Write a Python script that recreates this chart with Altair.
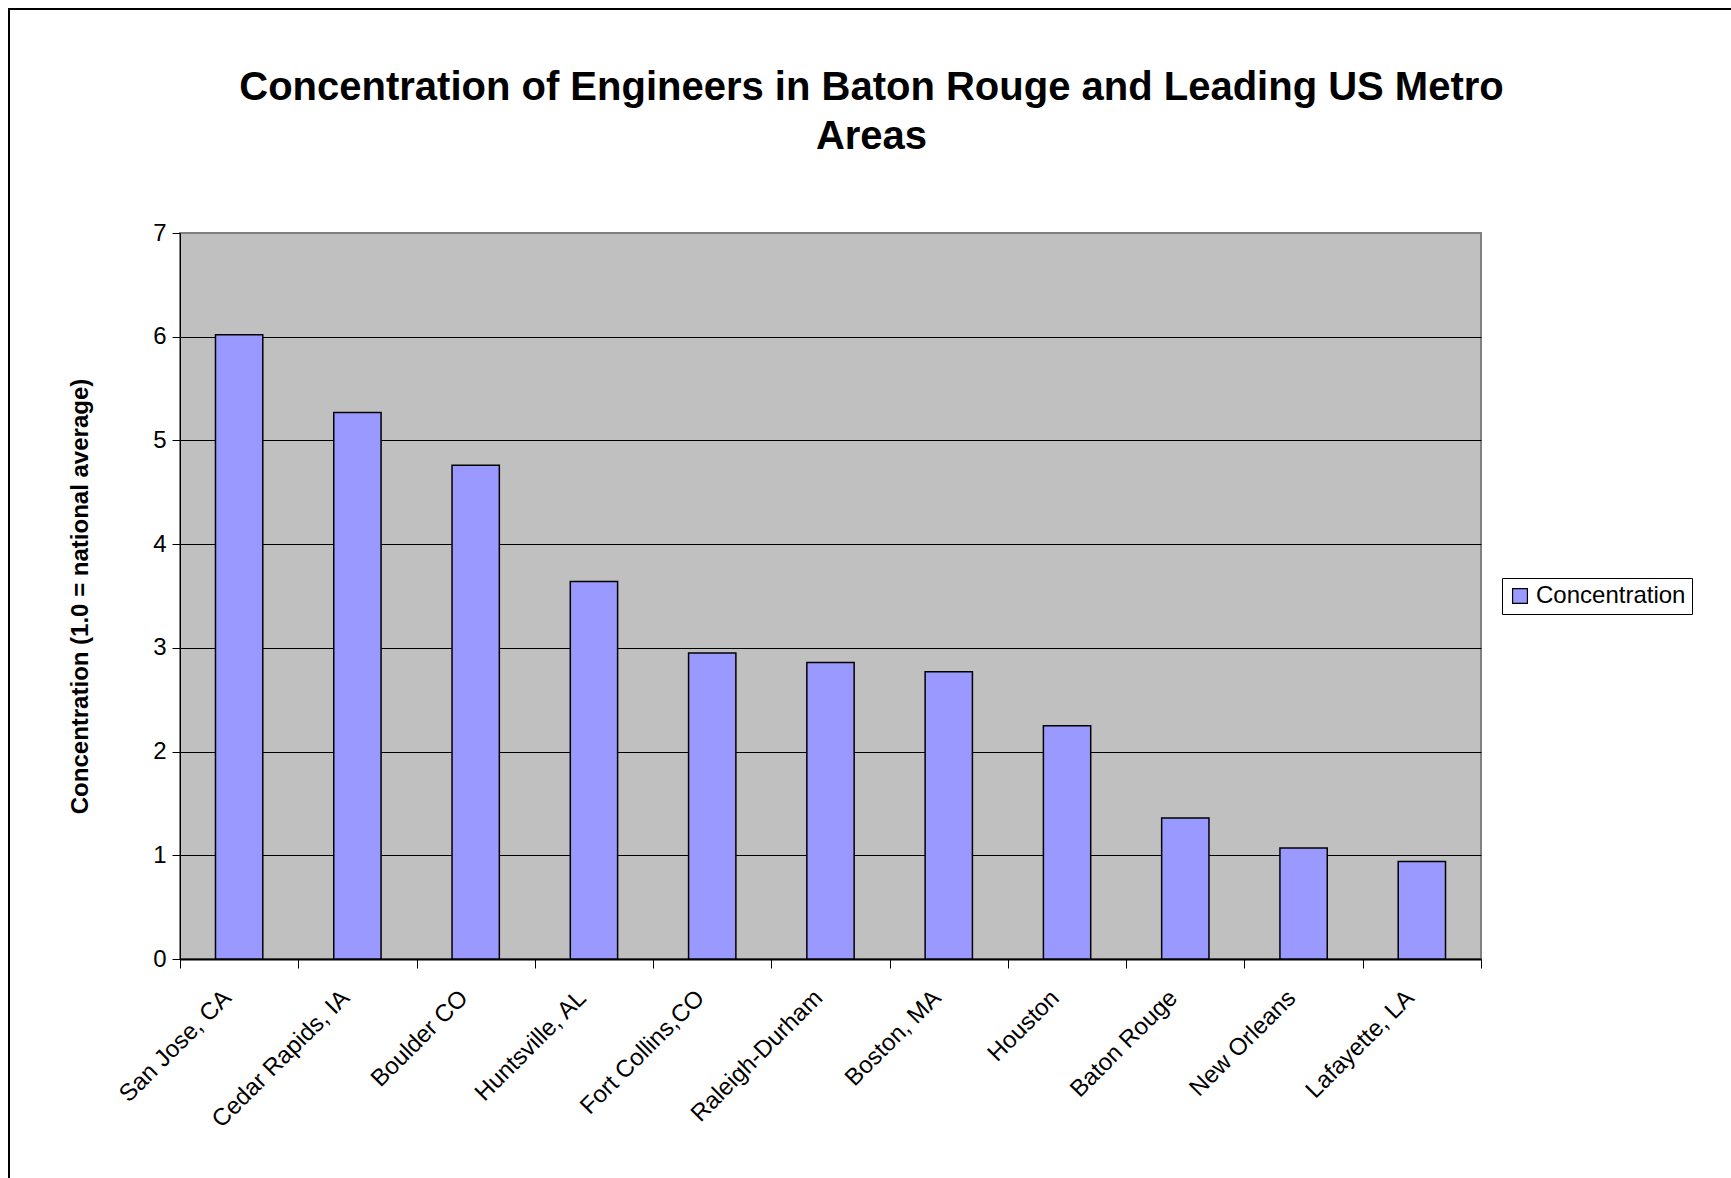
import altair as alt
import pandas as pd

cities = ["San Jose, CA", "Cedar Rapids, IA", "Boulder CO", "Huntsville, AL", "Fort Collins,CO",
          "Raleigh-Durham", "Boston, MA", "Houston", "Baton Rouge", "New Orleans", "Lafayette, LA"]
values = [6.02, 5.27, 4.76, 3.64, 2.95, 2.86, 2.77, 2.25, 1.36, 1.07, 0.94]
series = ["Concentration"] * len(cities)
y_ticks = [0, 1, 2, 3, 4, 5, 6, 7]

df = pd.DataFrame({"city": cities, "value": values, "series": series})

FONT = "Liberation Sans"
PLOT_W, PLOT_H = 1301, 726
LEFT, TOP = 180, 233

bars = alt.Chart(df).mark_bar(
    width=alt.RelativeBandSize(0.4), stroke="black", strokeWidth=1.5
).encode(
    x=alt.X("city:N", sort=cities, title=None,
            scale=alt.Scale(paddingInner=0, paddingOuter=0),
            axis=alt.Axis(labelAngle=-45, labelAlign="right", labelBaseline="middle",
                          labelFont=FONT, labelFontSize=24, labelColor="black",
                          labelPadding=26, labelOffset=-12, tickSize=9, tickColor="black",
                          tickBand="extent",
                          domainColor="black", domainWidth=2, grid=False, labelLimit=400)),
    y=alt.Y("value:Q", title="Concentration (1.0 = national average)",
            scale=alt.Scale(domain=[0, 7], nice=False),
            axis=alt.Axis(values=y_ticks, format="d", labelFont=FONT, labelFontSize=24,
                          labelColor="black", labelPadding=6, tickSize=8, tickColor="black",
                          domainColor="black", grid=True,
                          gridColor={"condition": {"test": "datum.value == 7", "value": "#808080"}, "value": "black"},
                          gridWidth=1, titleFont=FONT, titleFontSize=24, titleFontWeight="bold",
                          titleColor="black", titlePadding=60)),
    color=alt.Color("series:N", scale=alt.Scale(range=["#9999FF"]),
                    legend=alt.Legend(title=None, orient="none", legendX=1322, legendY=345,
                                      symbolType="square", symbolSize=220, symbolStrokeColor="black",
                                      symbolStrokeWidth=1.2, symbolOpacity=1,
                                      labelFont=FONT, labelFontSize=24, labelColor="black",
                                      strokeColor="black", padding=6, labelOffset=4)),
)

frame = alt.Chart(alt.Data(values=[{"a": 1}])).mark_rect(
    fill=None, stroke="black", strokeWidth=2
).encode(
    x=alt.value(9 - LEFT), x2=alt.value(1731 - LEFT + 20),
    y=alt.value(9 - TOP), y2=alt.value(1178 - TOP + 20),
)

chart = alt.layer(frame, bars).properties(
    width=PLOT_W, height=PLOT_H,
    title=alt.Title(["Concentration of Engineers in Baton Rouge and Leading US Metro", "Areas"],
                    font=FONT, fontSize=40, fontWeight="bold", color="black",
                    anchor="middle", dx=41, offset=-149, lineHeight=49),
    autosize=alt.AutoSizeParams(type="none"),
    padding={"left": LEFT, "top": TOP, "right": 1731 - LEFT - PLOT_W, "bottom": 1178 - TOP - PLOT_H},
    background="white",
).configure_view(
    fill="#C0C0C0", stroke="#808080", strokeWidth=2
)

chart.save("out.html", embed_options={"renderer": "svg", "actions": False})
